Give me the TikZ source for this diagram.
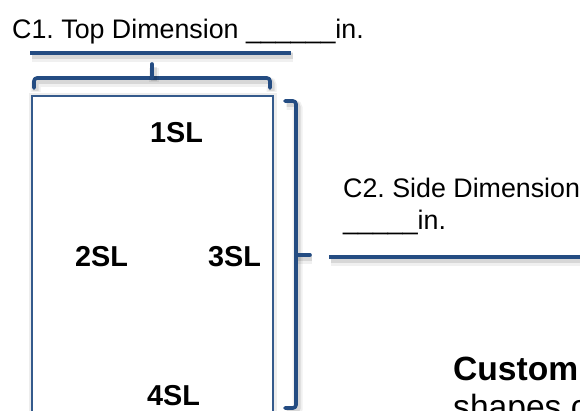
\documentclass[tikz,border=0pt]{standalone}
\usepackage{fontspec}
\setmainfont{Liberation Sans}
\frenchspacing
\definecolor{dimblue}{RGB}{36,76,130}
\definecolor{boxblue}{RGB}{52,90,140}
\begin{document}
\begin{tikzpicture}[x=1pt,y=-1pt,
  softshadow/.style={
    preaction={draw=black, draw opacity=0.06, line width=10pt,
      transform canvas={shift={(1.5pt,-4pt)}}},
    preaction={draw=black, draw opacity=0.10, line width=6pt,
      transform canvas={shift={(1.5pt,-3pt)}}}},
  dimline/.style={softshadow, draw=dimblue, line width=4pt},
  bracket/.style={softshadow, draw=dimblue, line width=3.6pt, line cap=round, line join=round, rounded corners=3pt},
  panel/.style={draw=boxblue, line width=1.4pt,
    preaction={draw=black, draw opacity=0.07, line width=7pt,
      transform canvas={shift={(0pt,-1pt)}}}},
  lbl/.style={font=\fontsize{26.8}{32}\selectfont, inner sep=0pt, anchor=base west},
  sl/.style={font=\bfseries\fontsize{28.8}{32}\selectfont, inner sep=0pt, anchor=base west}]
\useasboundingbox (0,0) rectangle (580,411);
\fill[white] (0,0) rectangle (580,411);

% panel
\draw[panel, fill=white] (32,96) rectangle (273,440);

% top dimension line
\coordinate (tl) at (30,53);
\coordinate (tr) at (291,53);
\draw[dimline] (tl) -- (tr);

% top bracket
\coordinate (tbl) at (34,88);
\coordinate (tbr) at (270,88);
\coordinate (tbm) at (152,64);
\draw[bracket] (tbl) -- (34,78) -- (270,78) -- (tbr);
\draw[bracket, rounded corners=0pt] (152,78) -- (tbm);

% right bracket
\coordinate (rbt) at (285,101);
\coordinate (rbb) at (285,408);
\coordinate (rbm) at (310,255);
\draw[bracket] (rbt) -- (296,101) -- (296,408) -- (rbb);
\draw[bracket, rounded corners=0pt] (296,255) -- (rbm);

% side dimension line
\coordinate (sl) at (329,257);
\coordinate (sr) at (590,257);
\draw[dimline] (sl) -- (sr);

% texts
\node[lbl] (c1) at (12,39) {C1. Top Dimension \_\_\_\_\_\_in.};
\node[lbl] (c2a) at (343,198) {C2. Side Dimension};
\node[lbl] (c2b) at (343,230) {\_\_\_\_\_in.};

\node[sl] (s1) at (150,143) {1SL};
\node[sl] (s2) at (75,267) {2SL};
\node[sl] (s3) at (208,267) {3SL};
\node[sl] (s4) at (147,405) {4SL};

\node[font=\bfseries\fontsize{33.6}{38}\selectfont, inner sep=0pt, anchor=base west] (custom) at (453,380) {Custom};
\node[font=\fontsize{33.6}{38}\selectfont, inner sep=0pt, anchor=base west] (shapes) at (453,418) {shapes c};
\end{tikzpicture}
\end{document}
